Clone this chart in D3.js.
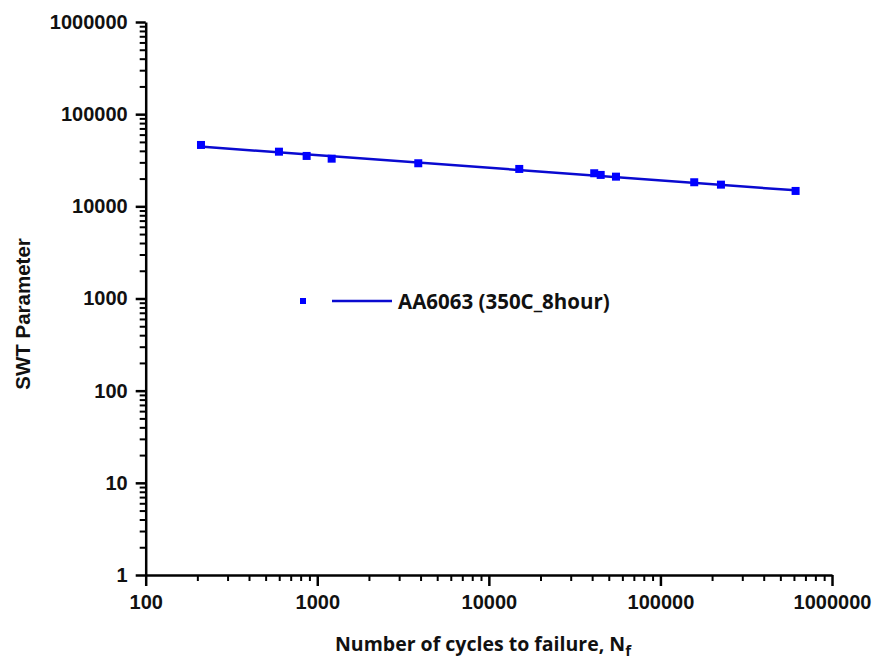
<!DOCTYPE html>
<html>
<head>
<meta charset="utf-8">
<script src="https://cdn.jsdelivr.net/npm/d3@7"></script>
<style>
  body { margin: 0; background: #fff; }
  .tick text { font-family: "Liberation Sans", Arial, sans-serif; font-weight: bold; font-size: 20px; fill: #111; }
</style>
</head>
<body>
<svg id="chart" width="875" height="662"></svg>
<script>
// Data
const cycles = [210, 598, 867, 1213, 3878, 15040, 41130, 44860, 55080, 157400, 225300, 613600];
const swt = [46340, 39170, 35220, 32900, 29330, 25450, 22850, 21920, 20990, 18250, 17190, 14690];
const fitCycles = [216, 614000];
const fitSwt = [44300, 14900];
const xTicks = [100, 1000, 10000, 100000, 1000000];
const yTicks = [1, 10, 100, 1000, 10000, 100000, 1000000];
const seriesName = "AA6063 (350C_8hour)";

const svg = d3.select("#chart");
const margin = { left: 145.7, top: 22, right: 43, bottom: 87 };
const width = 875 - margin.left - margin.right,
  height = 662 - margin.top - margin.bottom;

const x = d3.scaleLog().domain([100, 1000000]).range([0, width]);
const y = d3.scaleLog().domain([1, 1000000]).range([height, 0]);

const g = svg.append("g").attr("transform", `translate(${margin.left},${margin.top})`);

// minor ticks
function minors(dom) {
  const out = [];
  for (let p = Math.log10(dom[0]); p < Math.log10(dom[1]); p++) {
    for (let k = 2; k <= 9; k++) out.push(k * Math.pow(10, p));
  }
  return out;
}

g.append("g")
  .attr("transform", `translate(0,${height})`)
  .call(d3.axisBottom(x).tickValues(minors(x.domain())).tickSize(6).tickFormat(""))
  .call(a => a.select(".domain").remove())
  .selectAll("line").attr("stroke", "#000").attr("stroke-width", 2);

g.append("g")
  .call(d3.axisLeft(y).tickValues(minors(y.domain())).tickSize(6).tickFormat(""))
  .call(a => a.select(".domain").remove())
  .selectAll("line").attr("stroke", "#000").attr("stroke-width", 2);

// major ticks + labels
const xAxis = g.append("g")
  .attr("transform", `translate(0,${height})`)
  .call(d3.axisBottom(x).tickValues(xTicks).tickSize(11).tickSizeOuter(0).tickPadding(9).tickFormat(d3.format("d")));
xAxis.select(".domain").attr("stroke-width", 2.5).attr("stroke", "#000");
xAxis.selectAll(".tick line").attr("stroke-width", 2.5).attr("stroke", "#000");

const yAxis = g.append("g")
  .call(d3.axisLeft(y).tickValues(yTicks).tickSize(10).tickSizeOuter(0).tickPadding(8).tickFormat(d3.format("d")));
yAxis.select(".domain").attr("stroke-width", 2.5).attr("stroke", "#000");
yAxis.selectAll(".tick line").attr("stroke-width", 2.5).attr("stroke", "#000");

// fit line
const line = d3.line().x(d => x(d[0])).y(d => y(d[1]));
g.append("path")
  .datum(fitCycles.map((c, i) => [c, fitSwt[i]]))
  .attr("d", line)
  .attr("fill", "none")
  .attr("stroke", "#0a0ad0")
  .attr("stroke-width", 2.5);

// markers
const ms = 8;
g.selectAll("rect.pt")
  .data(cycles.map((c, i) => [c, swt[i]]))
  .enter()
  .append("rect")
  .attr("class", "pt")
  .attr("x", d => x(d[0]) - ms / 2)
  .attr("y", d => y(d[1]) - ms / 2)
  .attr("width", ms)
  .attr("height", ms)
  .attr("fill", "#0000ff");

// legend
const legend = svg.append("g").attr("transform", "translate(303,301)");
legend.append("rect").attr("x", -3).attr("y", -3).attr("width", 6).attr("height", 6).attr("fill", "#0000ff");
legend.append("line").attr("x1", 29).attr("x2", 89).attr("y1", 0).attr("y2", 0)
  .attr("stroke", "#0a0ad0").attr("stroke-width", 2.5);
legend.append("text")
  .attr("x", 95).attr("y", 8)
  .style("font-family", "'Open Sans', sans-serif")
  .style("font-weight", "bold")
  .style("font-size", "20.5px")
  .attr("fill", "#111")
  .text(seriesName);

// axis titles
const xt = svg.append("text")
  .attr("x", 335).attr("y", 651)
  .style("font-family", "'Open Sans', sans-serif")
  .style("font-weight", "bold")
  .style("font-size", "19.5px")
  .attr("fill", "#111");
xt.append("tspan").text("Number of cycles to failure, N");
xt.append("tspan").attr("dy", 5).style("font-size", "15px").text("f");

svg.append("text")
  .attr("transform", "translate(30,314) rotate(-90)")
  .attr("text-anchor", "middle")
  .style("font-family", "'Liberation Sans', Arial, sans-serif")
  .style("font-weight", "bold")
  .style("font-size", "20.5px")
  .attr("fill", "#111")
  .text("SWT Parameter");
</script>
</body>
</html>
